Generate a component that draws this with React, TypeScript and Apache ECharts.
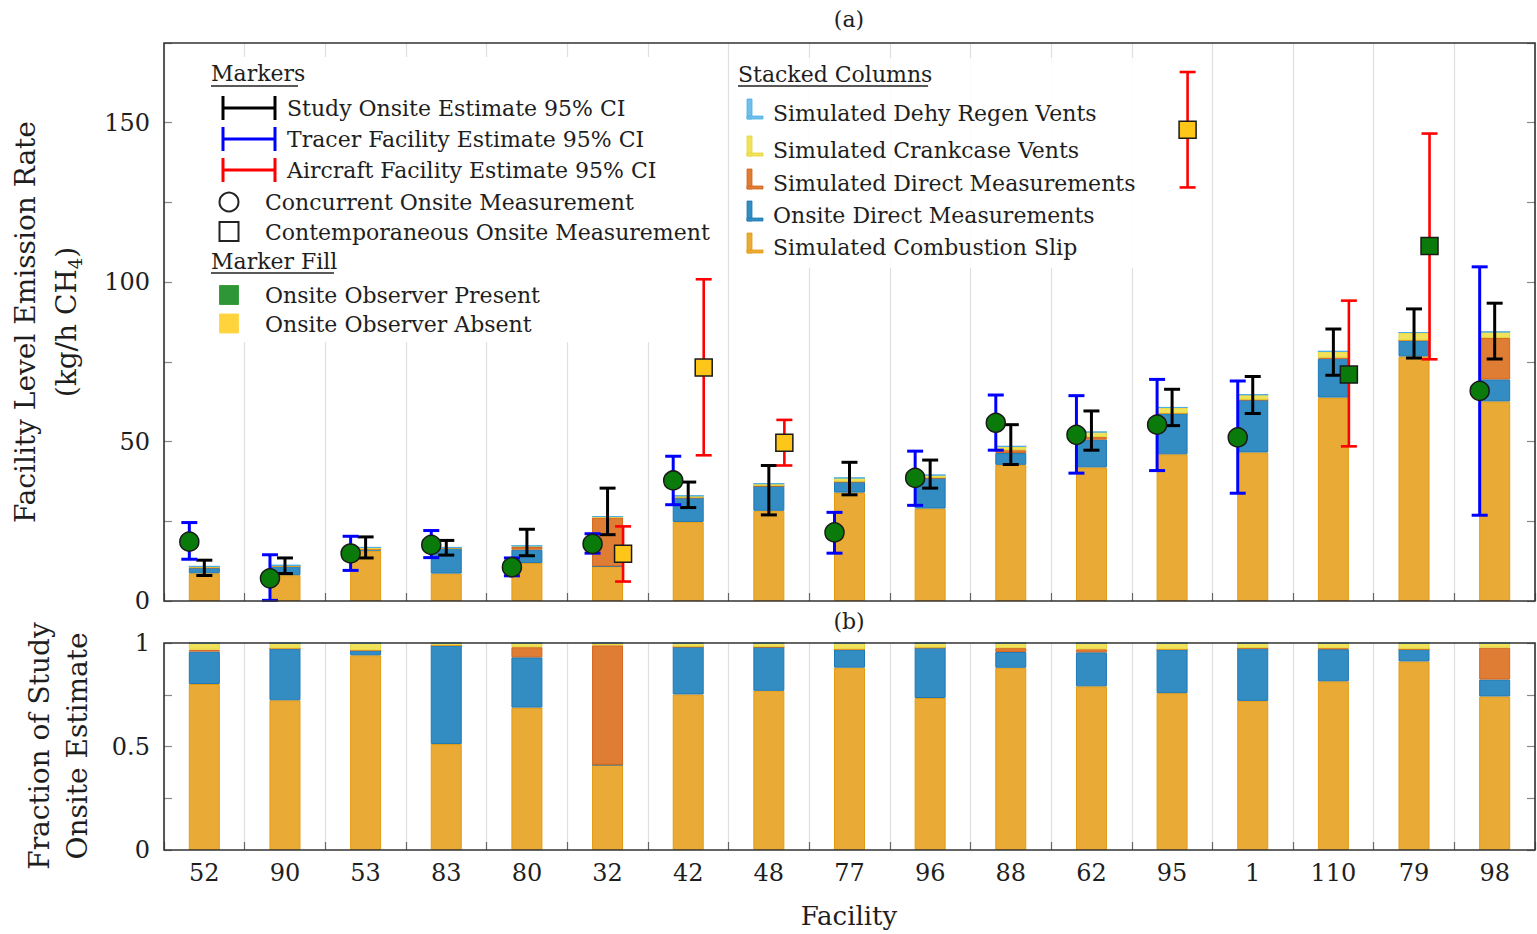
import React, { useEffect, useRef } from "react";
import * as echarts from "echarts";

// ---------- DATA ----------
const facilities = ["52", "90", "53", "83", "80", "32", "42", "48", "77", "96", "88", "62", "95", "1", "110", "79", "98"];

// stacked components (kg/h CH4)
const combustionSlip = [8.7, 8.1, 15.8, 8.6, 11.9, 10.9, 24.8, 28.3, 34.0, 29.0, 42.7, 41.9, 46.0, 46.6, 63.8, 76.7, 62.6];
const onsiteDirect = [1.7, 2.8, 0.4, 8.0, 4.2, 0, 7.6, 7.8, 3.4, 9.6, 3.7, 8.7, 12.8, 16.5, 12.2, 5.0, 6.9];
const simDirect = [0.1, 0, 0, 0, 0.85, 15.3, 0, 0, 0, 0, 0.9, 0.8, 0, 0, 0.3, 0, 13.0];
const crankcase = [0.35, 0.3, 0.6, 0.2, 0.35, 0.3, 0.6, 0.7, 1.2, 0.9, 1.2, 1.6, 1.9, 1.6, 2.0, 2.5, 1.9];
const dehyRegen = [0, 0, 0, 0, 0, 0, 0, 0, 0, 0, 0, 0, 0, 0, 0, 0, 0];

// Study onsite estimate 95% CI
const studyLow = [8.0, 8.6, 13.5, 14.4, 14.2, 20.8, 29.3, 27.0, 33.3, 35.4, 42.8, 47.3, 55.0, 58.8, 70.8, 76.2, 75.9];
const studyHigh = [12.8, 13.5, 20.1, 19.0, 22.5, 35.4, 37.3, 42.5, 43.5, 44.2, 55.3, 59.6, 66.4, 70.4, 85.3, 91.6, 93.4];

// Tracer facility estimate 95% CI + concurrent onsite measurement
const tracerLow = [13.1, 0.2, 9.6, 13.6, 7.9, 15.0, 30.2, null, 15.0, 30.0, 47.3, 40.1, 40.9, 33.8, null, null, 26.9];
const tracerHigh = [24.6, 14.5, 20.3, 22.1, 13.5, 21.1, 45.4, null, 27.8, 47.0, 64.6, 64.4, 69.5, 69.0, null, null, 104.8];
const concurrentMeas = [18.6, 7.1, 14.9, 17.6, 10.6, 17.9, 37.8, null, 21.5, 38.6, 55.9, 52.1, 55.3, 51.3, null, null, 65.9];

// Aircraft facility estimate 95% CI + contemporaneous onsite measurement
const aircraftLow = [null, null, null, null, null, 6.1, 45.7, 42.5, null, null, null, null, 129.7, null, 48.5, 75.8, null];
const aircraftHigh = [null, null, null, null, null, 23.4, 100.9, 56.8, null, null, null, null, 165.9, null, 94.2, 146.6, null];
const contempMeas = [null, null, null, null, null, 14.8, 73.2, 49.6, null, null, null, null, 147.8, null, 71.0, 111.3, null];
const observerPresent = [true, true, true, true, true, false, false, false, true, true, true, true, false, true, true, true, true];

const yTicksTop = [0, 50, 100, 150];
const yTicksBottom = [0, 0.5, 1];

// ---------- STYLE ----------
const FONT = '"DejaVu Serif", serif';
const TXT = "#1e1e1e";
const C = {
  comb: { fill: "#E9AB35", edge: "#E39A12" },
  onsite: { fill: "#338DC2", edge: "#1F78B4" },
  simd: { fill: "#DE7D33", edge: "#D4661E" },
  crank: { fill: "#F0E35B", edge: "#E6D43A" },
  dehy: { fill: "#72BEEA", edge: "#4DAEE5" },
};
const GREEN = "#0A7B0A";
const YELLOW = "#FFC61A";

const G1 = { left: 164, top: 43, width: 1371, height: 558 };
const G2 = { left: 164, top: 643, width: 1371, height: 207 };

function errorBarSeries(name: string, lows: any[], highs: any[], color: string, offset: number, lw: number, z: number) {
  const data: number[][] = [];
  lows.forEach((lo, i) => {
    if (lo != null && highs[i] != null) data.push([i, lo, highs[i]]);
  });
  return {
    type: "custom",
    name,
    xAxisIndex: 0,
    yAxisIndex: 0,
    z,
    silent: true,
    encode: { x: 0, y: [1, 2] },
    data,
    renderItem: (params: any, api: any) => {
      const i = api.value(0);
      const a = api.coord([i, api.value(1)]);
      const b = api.coord([i, api.value(2)]);
      const x = a[0] + offset;
      const h = 8;
      const style = { stroke: color, lineWidth: lw, fill: "none" };
      return {
        type: "group",
        children: [
          { type: "line", shape: { x1: x, y1: a[1], x2: x, y2: b[1] }, style },
          { type: "line", shape: { x1: x - h, y1: a[1], x2: x + h, y2: a[1] }, style },
          { type: "line", shape: { x1: x - h, y1: b[1], x2: x + h, y2: b[1] }, style },
        ],
      };
    },
  };
}

function txt(text: string, x: number, y: number, size: number, align = "left", extra: any = {}) {
  return {
    type: "text",
    x,
    y,
    z: 30,
    silent: true,
    style: {
      text,
      fill: TXT,
      font: `${size}px ${FONT}`,
      fontSize: size,
      fontFamily: FONT,
      align,
      verticalAlign: "middle",
      textAlign: align,
      textVerticalAlign: "middle",
    },
    ...extra,
  };
}

function line(x1: number, y1: number, x2: number, y2: number, stroke: string, lw: number) {
  return { type: "line", z: 30, silent: true, shape: { x1, y1, x2, y2 }, style: { stroke, lineWidth: lw } };
}

export default function App() {
  const ref = useRef<HTMLDivElement>(null);

  useEffect(() => {
    if (!ref.current) return;
    const chart = echarts.init(ref.current, null, { renderer: "svg" });

    const totals = facilities.map(
      (_, i) => combustionSlip[i] + onsiteDirect[i] + simDirect[i] + crankcase[i] + dehyRegen[i]
    );
    const frac = (arr: number[]) => arr.map((v, i) => v / totals[i]);

    const comps = [
      { name: "Simulated Combustion Slip", data: combustionSlip, c: C.comb },
      { name: "Onsite Direct Measurements", data: onsiteDirect, c: C.onsite },
      { name: "Simulated Direct Measurements", data: simDirect, c: C.simd },
      { name: "Simulated Crankcase Vents", data: crankcase, c: C.crank },
      { name: "Simulated Dehy Regen Vents", data: dehyRegen, c: C.dehy },
    ];

    const barSeries: any[] = [];
    comps.forEach((cp) => {
      barSeries.push({
        type: "bar",
        name: cp.name,
        xAxisIndex: 0,
        yAxisIndex: 0,
        stack: "top",
        barWidth: 31,
        z: 2,
        silent: true,
        data: cp.data,
        itemStyle: { color: cp.c.fill, borderColor: cp.c.edge, borderWidth: 1 },
      });
      barSeries.push({
        type: "bar",
        name: cp.name + " (fraction)",
        xAxisIndex: 1,
        yAxisIndex: 2,
        stack: "bottom",
        barWidth: 31,
        z: 2,
        silent: true,
        data: frac(cp.data),
        itemStyle: { color: cp.c.fill, borderColor: cp.c.edge, borderWidth: 1 },
      });
    });

    const circleData: any[] = [];
    concurrentMeas.forEach((v, i) => {
      if (v != null) circleData.push([i, v]);
    });
    const squareData: any[] = [];
    contempMeas.forEach((v, i) => {
      if (v != null)
        squareData.push({ value: [i, v], itemStyle: { color: observerPresent[i] ? GREEN : YELLOW } });
    });

    const axisTick = { show: true, inside: true, length: 8, lineStyle: { color: "#888", width: 1.2 } };
    const xCommon = {
      type: "category",
      data: facilities,
      boundaryGap: true,
      axisLine: { show: false },
      axisTick: { ...axisTick, lineStyle: { color: "#666", width: 1.2 } },
      splitLine: { show: true, lineStyle: { color: "#e0e0e0", width: 1.2 } },
    };

    // ---- graphic (legends, titles, frames) ----
    const g: any[] = [];
    g.push({ type: "rect", z: 1, silent: true, shape: { x: 200, y: 57, width: 512, height: 285 }, style: { fill: "#ffffff" } });
    g.push({ type: "rect", z: 1, silent: true, shape: { x: 732, y: 58, width: 410, height: 210 }, style: { fill: "rgba(255,255,255,0.85)" } });
    g.push({ type: "rect", z: 25, silent: true, shape: { x: G1.left, y: G1.top, width: G1.width, height: G1.height }, style: { fill: "none", stroke: "#333", lineWidth: 1.6 } });
    g.push({ type: "rect", z: 25, silent: true, shape: { x: G2.left, y: G2.top, width: G2.width, height: G2.height }, style: { fill: "none", stroke: "#333", lineWidth: 1.6 } });

    g.push(txt("(a)", 849, 19, 22, "center"));
    g.push(txt("(b)", 849, 621, 22, "center"));
    g.push(txt("Facility", 849, 916, 26, "center"));

    g.push(txt("Facility Level Emission Rate", 25, 322, 28, "center", { rotation: Math.PI / 2 }));
    g.push({
      type: "text",
      x: 66,
      y: 322,
      z: 30,
      rotation: Math.PI / 2,
      silent: true,
      style: {
        text: "{a|(kg/h CH}{s|4}{a|)}",
        align: "center",
        verticalAlign: "middle",
        textAlign: "center",
        textVerticalAlign: "middle",
        fill: TXT,
        rich: {
          a: { fontSize: 28, fontFamily: FONT, fill: TXT, color: TXT, lineHeight: 36, verticalAlign: "middle" },
          s: { fontSize: 18, fontFamily: FONT, fill: TXT, color: TXT, lineHeight: 36, verticalAlign: "bottom" },
        },
      },
    });
    g.push(txt("Fraction of Study", 39, 746, 28, "center", { rotation: Math.PI / 2 }));
    g.push(txt("Onsite Estimate", 77, 746, 28, "center", { rotation: Math.PI / 2 }));

    // Markers legend
    const LF = 22;
    g.push(txt("Markers", 211, 73, LF));
    g.push(line(211, 86, 298, 86, "#222", 1.4));
    const ebLeg = [
      { t: "Study Onsite Estimate 95% CI", y: 108, c: "#000000" },
      { t: "Tracer Facility Estimate 95% CI", y: 139, c: "#0000FF" },
      { t: "Aircraft Facility Estimate 95% CI", y: 170, c: "#FF0000" },
    ];
    ebLeg.forEach((e) => {
      g.push(line(223, e.y, 275, e.y, e.c, 3));
      g.push(line(223, e.y - 12, 223, e.y + 12, e.c, 3));
      g.push(line(275, e.y - 12, 275, e.y + 12, e.c, 3));
      g.push(txt(e.t, 287, e.y, LF));
    });
    g.push({ type: "circle", z: 30, silent: true, shape: { cx: 229, cy: 202, r: 9.5 }, style: { fill: "#fff", stroke: "#222", lineWidth: 2 } });
    g.push(txt("Concurrent Onsite Measurement", 265, 202, LF));
    g.push({ type: "rect", z: 30, silent: true, shape: { x: 219.5, y: 222, width: 19, height: 19 }, style: { fill: "#fff", stroke: "#222", lineWidth: 2 } });
    g.push(txt("Contemporaneous Onsite Measurement", 265, 232, LF));
    g.push(txt("Marker Fill", 211, 261, LF));
    g.push(line(211, 273, 334, 273, "#222", 1.4));
    g.push({ type: "rect", z: 30, silent: true, shape: { x: 219.5, y: 285.5, width: 19, height: 19 }, style: { fill: "#2E9636", stroke: "#3a9e3f", lineWidth: 1 } });
    g.push(txt("Onsite Observer Present", 265, 295, LF));
    g.push({ type: "rect", z: 30, silent: true, shape: { x: 219.5, y: 314, width: 19, height: 19 }, style: { fill: "#FFD33B", stroke: "#FFD84F", lineWidth: 1 } });
    g.push(txt("Onsite Observer Absent", 265, 324, LF));

    // Stacked columns legend
    g.push(txt("Stacked Columns", 738, 74, LF));
    g.push(line(738, 86, 928, 86, "#222", 1.4));
    const stLeg = [
      { t: "Simulated Dehy Regen Vents", y: 113, c: C.dehy },
      { t: "Simulated Crankcase Vents", y: 150, c: C.crank },
      { t: "Simulated Direct Measurements", y: 183, c: C.simd },
      { t: "Onsite Direct Measurements", y: 215, c: C.onsite },
      { t: "Simulated Combustion Slip", y: 247, c: C.comb },
    ];
    stLeg.forEach((s) => {
      g.push({ type: "rect", z: 30, silent: true, shape: { x: 747, y: s.y - 14, width: 5, height: 20 }, style: { fill: s.c.fill, stroke: s.c.edge, lineWidth: 0.8 } });
      g.push({ type: "rect", z: 30, silent: true, shape: { x: 747, y: s.y + 3, width: 16, height: 3 }, style: { fill: s.c.fill, stroke: s.c.edge, lineWidth: 0.8 } });
      g.push(txt(s.t, 773, s.y, LF));
    });

    const yLabel = { fontSize: 24, fontFamily: FONT, color: TXT, margin: 14 };

    chart.setOption({
      animation: false,
      textStyle: { fontFamily: FONT },
      grid: [
        { left: G1.left, top: G1.top, width: G1.width, height: G1.height, show: false },
        { left: G2.left, top: G2.top, width: G2.width, height: G2.height, show: false },
      ],
      xAxis: [
        { ...xCommon, gridIndex: 0, axisLabel: { show: false } },
        {
          ...xCommon,
          gridIndex: 1,
          axisLabel: { show: true, fontSize: 24, fontFamily: FONT, color: TXT, margin: 11, interval: 0 },
        },
      ],
      yAxis: [
        {
          type: "value",
          gridIndex: 0,
          min: 0,
          max: 175,
          interval: 25,
          axisLine: { show: false },
          axisTick: axisTick,
          splitLine: { show: false },
          axisLabel: { ...yLabel, formatter: (v: number) => (yTicksTop.includes(v) ? String(v) : "") },
        },
        {
          type: "value",
          gridIndex: 0,
          position: "right",
          min: 0,
          max: 175,
          interval: 25,
          axisLine: { show: false },
          axisTick: axisTick,
          splitLine: { show: false },
          axisLabel: { show: false },
        },
        {
          type: "value",
          gridIndex: 1,
          min: 0,
          max: 1,
          interval: 0.25,
          axisLine: { show: false },
          axisTick: axisTick,
          splitLine: { show: false },
          axisLabel: { ...yLabel, formatter: (v: number) => (yTicksBottom.includes(v) ? String(v) : "") },
        },
        {
          type: "value",
          gridIndex: 1,
          position: "right",
          min: 0,
          max: 1,
          interval: 0.25,
          axisLine: { show: false },
          axisTick: axisTick,
          splitLine: { show: false },
          axisLabel: { show: false },
        },
      ],
      series: [
        ...barSeries,
        errorBarSeries("Study Onsite Estimate 95% CI", studyLow, studyHigh, "#000000", 0, 3, 3),
        errorBarSeries("Tracer Facility Estimate 95% CI", tracerLow, tracerHigh, "#0000FF", -15, 3, 3),
        errorBarSeries("Aircraft Facility Estimate 95% CI", aircraftLow, aircraftHigh, "#FF0000", 15.5, 2.6, 3),
        {
          type: "scatter",
          name: "Concurrent Onsite Measurement",
          xAxisIndex: 0,
          yAxisIndex: 0,
          z: 5,
          silent: true,
          symbol: "circle",
          symbolSize: 19,
          symbolOffset: [-15, 0],
          data: circleData,
          itemStyle: { color: GREEN, borderColor: "#1a1a1a", borderWidth: 1.5, opacity: 1 },
        },
        {
          type: "scatter",
          name: "Contemporaneous Onsite Measurement",
          xAxisIndex: 0,
          yAxisIndex: 0,
          z: 5,
          silent: true,
          symbol: "rect",
          symbolSize: 17,
          symbolOffset: [15.5, 0],
          data: squareData,
          itemStyle: { borderColor: "#1a1a1a", borderWidth: 1.5, opacity: 1 },
        },
      ],
      graphic: { elements: g },
    });

    return () => chart.dispose();
  }, []);

  return (
    <div
      ref={ref}
      style={{ position: "fixed", left: 0, top: 0, width: 1537, height: 934, background: "#fff" }}
    />
  );
}
